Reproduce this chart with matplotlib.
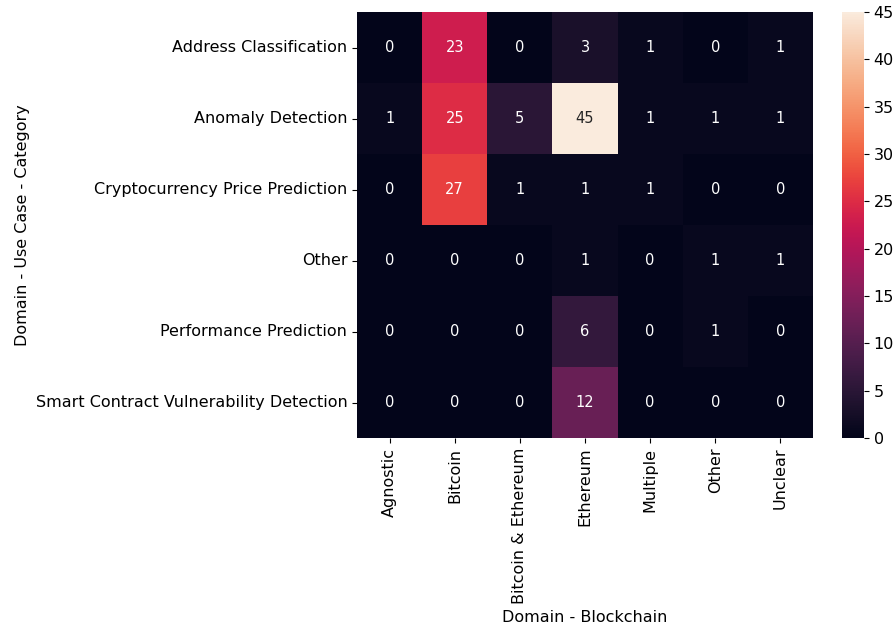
import matplotlib
matplotlib.use("Agg")
import matplotlib.pyplot as plt
import seaborn as sns
import pandas as pd

# 用例类别（行）和区块链（列）
categories = ["Address Classification", "Anomaly Detection", "Cryptocurrency Price Prediction",
              "Other", "Performance Prediction", "Smart Contract Vulnerability Detection"]
chains = ["Agnostic", "Bitcoin", "Bitcoin & Ethereum", "Ethereum", "Multiple", "Other", "Unclear"]

address_cls = [0, 23, 0, 3, 1, 0, 1]
anomaly = [1, 25, 5, 45, 1, 1, 1]
price_pred = [0, 27, 1, 1, 1, 0, 0]
other = [0, 0, 0, 1, 0, 1, 1]
perf_pred = [0, 0, 0, 6, 0, 1, 0]
smart_contract = [0, 0, 0, 12, 0, 0, 0]

df = pd.DataFrame([address_cls, anomaly, price_pred, other, perf_pred, smart_contract],
                  index=categories, columns=chains)

plt.rcParams["font.size"] = 11.5

fig = plt.figure(figsize=(8.96, 6.33), dpi=100)
ax = fig.add_axes([357 / 896, 1 - 438 / 633, 456 / 896, 426 / 633])
cax = fig.add_axes([842 / 896, 1 - 438 / 633, 22 / 896, 426 / 633])

sns.heatmap(df, annot=True, fmt="d", ax=ax, cbar_ax=cax, annot_kws={"size": 10.5})
ax.set_xlabel("Domain - Blockchain")
ax.set_ylabel("Domain - Use Case - Category")

fig.savefig("out.png", dpi=100)
